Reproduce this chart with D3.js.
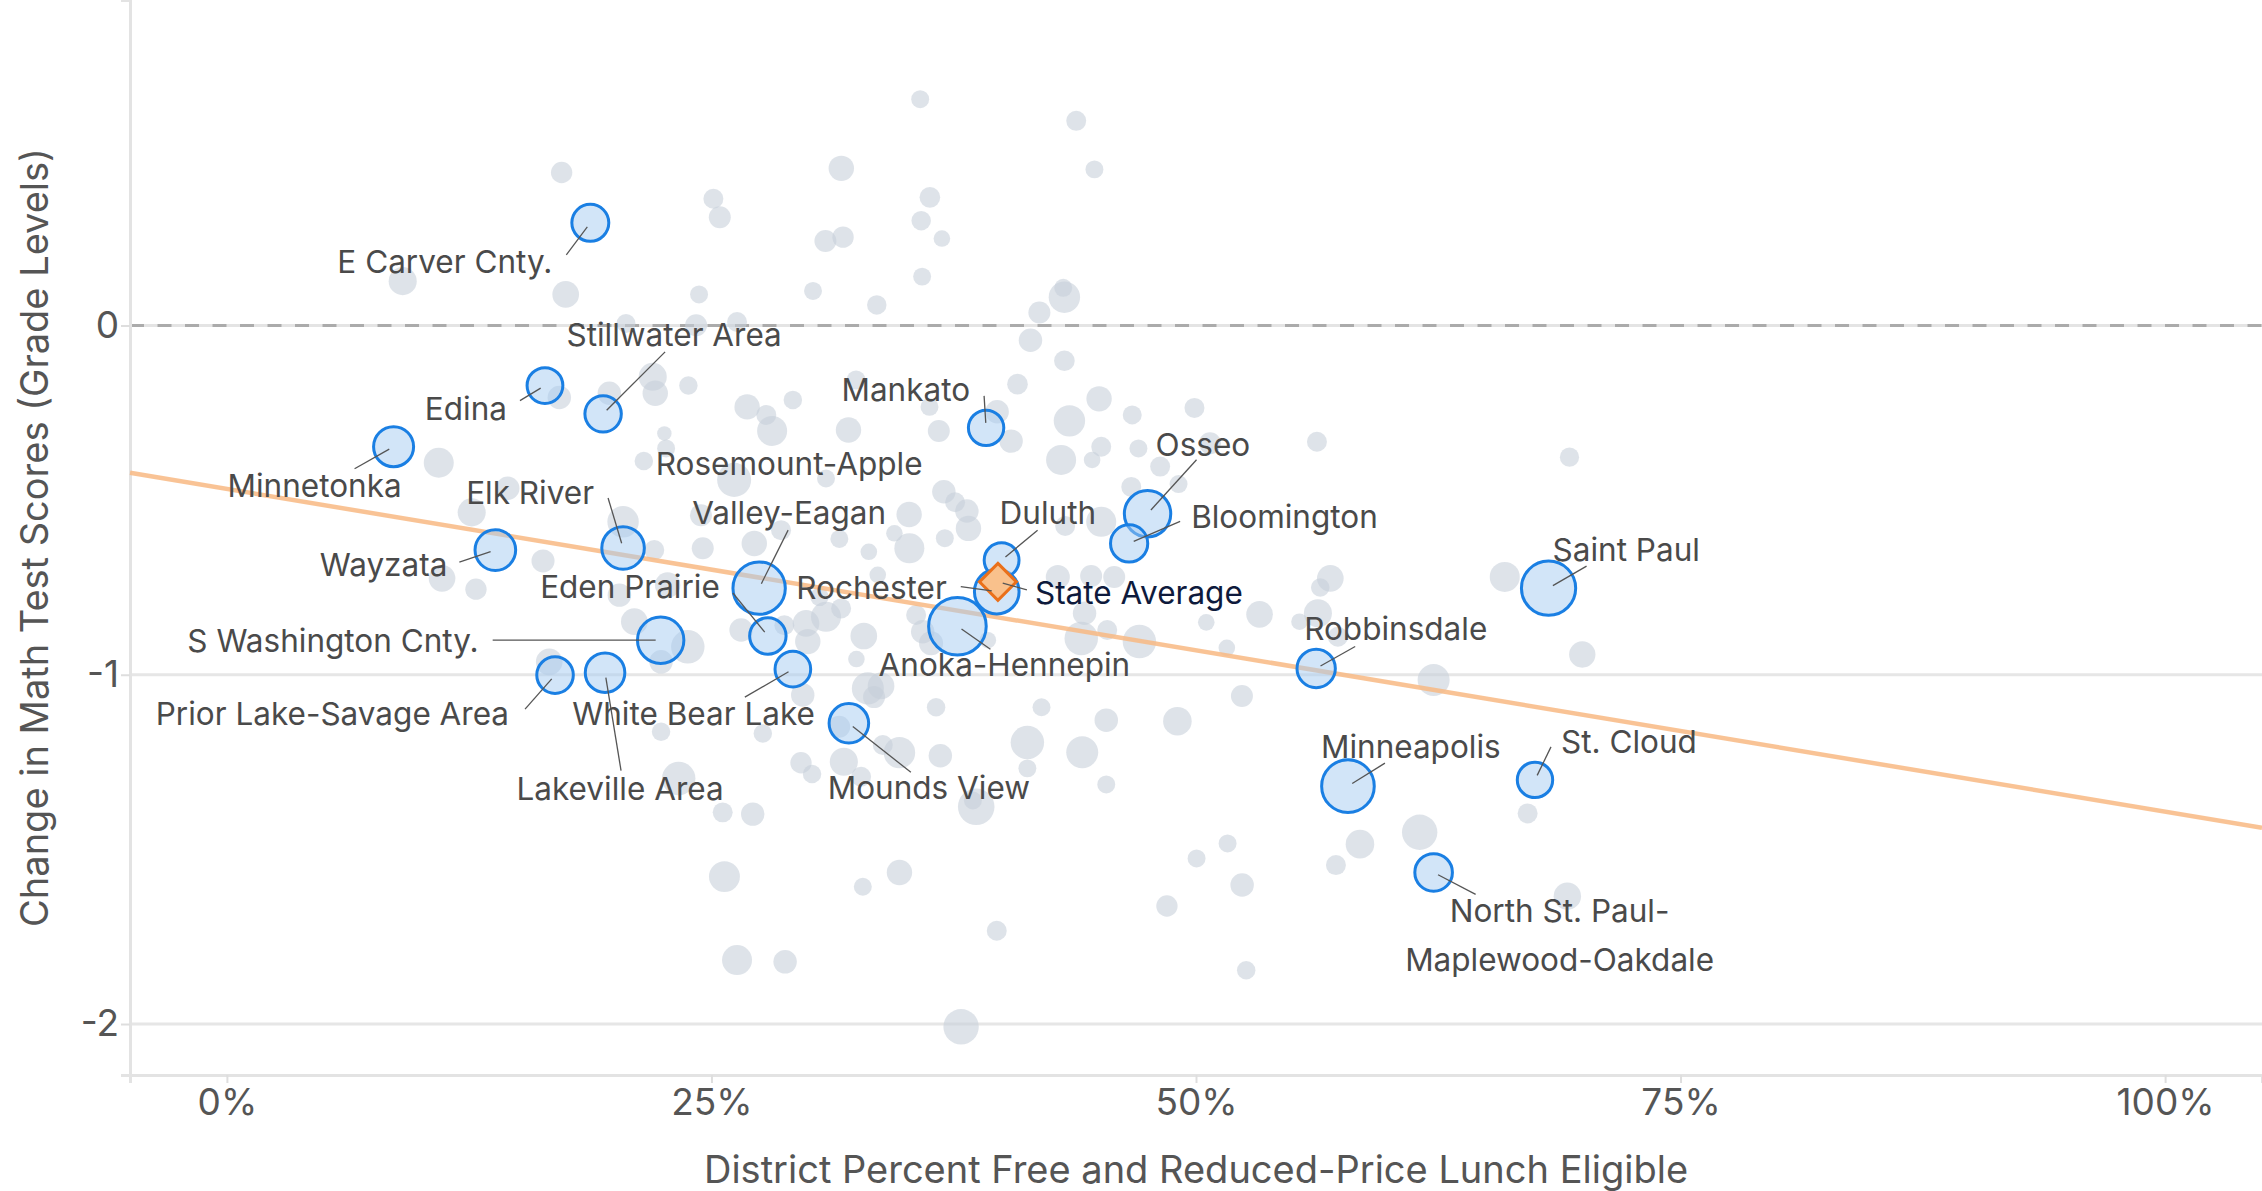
<!DOCTYPE html>
<html>
<head>
<meta charset="utf-8">
<script src="https://cdn.jsdelivr.net/npm/d3@7"></script>
<style>
  html, body { margin: 0; padding: 0; background: #fff; }
  svg { display: block; font-family: Inter, "Noto Sans", sans-serif; }
</style>
</head>
<body>
<svg id="chart"></svg>
<script>
// Axis ticks
const xTicks = [0, 0.25, 0.5, 0.75, 1];
const yTicks = [-2, -1, 0];

// Highlighted districts: share FRL eligible, change in grade levels, enrollment (thousands)
const districts = [
    { name: 'E Carver Cnty.', frl: 0.1875, change: 0.294, enroll: 14.4 },
    { name: 'Edina', frl: 0.1641, change: -0.172, enroll: 13.5 },
    { name: 'Stillwater Area', frl: 0.1941, change: -0.253, enroll: 14.0 },
    { name: 'Minnetonka', frl: 0.0860, change: -0.347, enroll: 16.9 },
    { name: 'Wayzata', frl: 0.1385, change: -0.643, enroll: 17.4 },
    { name: 'Elk River', frl: 0.2044, change: -0.637, enroll: 19.1 },
    { name: 'S Washington Cnty.', frl: 0.2238, change: -0.901, enroll: 22.7 },
    { name: 'Prior Lake-Savage Area', frl: 0.1693, change: -1.001, enroll: 14.1 },
    { name: 'Lakeville Area', frl: 0.1951, change: -0.994, enroll: 16.5 },
    { name: 'Rosemount-Apple Valley-Eagan', frl: 0.2746, change: -0.752, enroll: 28.9 },
    { name: 'Eden Prairie', frl: 0.2791, change: -0.889, enroll: 14.0 },
    { name: 'White Bear Lake', frl: 0.2920, change: -0.984, enroll: 13.4 },
    { name: 'Mounds View', frl: 0.3209, change: -1.139, enroll: 16.5 },
    { name: 'Anoka-Hennepin', frl: 0.3769, change: -0.861, enroll: 35.0 },
    { name: 'Rochester', frl: 0.3972, change: -0.762, enroll: 21.0 },
    { name: 'Duluth', frl: 0.3997, change: -0.672, enroll: 12.8 },
    { name: 'Mankato', frl: 0.3917, change: -0.293, enroll: 13.2 },
    { name: 'Osseo', frl: 0.4750, change: -0.539, enroll: 22.7 },
    { name: 'Bloomington', frl: 0.4655, change: -0.624, enroll: 14.6 },
    { name: 'Robbinsdale', frl: 0.5620, change: -0.982, enroll: 15.5 },
    { name: 'Minneapolis', frl: 0.5784, change: -1.319, enroll: 29.2 },
    { name: 'North St. Paul-Maplewood-Oakdale', frl: 0.6226, change: -1.566, enroll: 14.9 },
    { name: 'St. Cloud', frl: 0.6749, change: -1.301, enroll: 13.2 },
    { name: 'Saint Paul', frl: 0.6819, change: -0.752, enroll: 31.0 }
];

const stateAverage = { name: 'State Average', frl: 0.3978, change: -0.734 };

// Fitted trend: change = intercept + slope * frl
const trend = { intercept: -0.468, slope: -0.924 };

// All other districts: [frl, change, enroll]
const otherDistricts = [
    [0.1727, 0.438, 4.8], [0.2510, 0.363, 4.2], [0.2543, 0.310, 5.1], [0.0907, 0.127, 8.3],
    [0.1748, 0.089, 7.5], [0.2436, 0.089, 3.4], [0.2059, 0.006, 3.8], [0.2421, 0.001, 5.1],
    [0.2197, -0.147, 8.3], [0.2210, -0.194, 6.8], [0.2381, -0.172, 3.6], [0.1973, -0.194, 5.8],
    [0.1715, -0.206, 5.8], [0.2257, -0.309, 2.2], [0.2266, -0.352, 3.4], [0.2151, -0.388, 3.6],
    [0.1093, -0.393, 9.5], [0.2617, -0.442, 12.2], [0.1449, -0.466, 5.8], [0.1263, -0.535, 8.3],
    [0.2044, -0.562, 10.4], [0.2446, -0.543, 5.1], [0.2205, -0.643, 4.2], [0.2455, -0.638, 5.1],
    [0.1631, -0.674, 5.6], [0.2632, 0.010, 4.2],
    [0.3577, 0.648, 3.4], [0.4382, 0.586, 4.2], [0.3170, 0.450, 6.8], [0.4476, 0.447, 3.4],
    [0.3627, 0.367, 4.5], [0.3582, 0.300, 4.0], [0.3088, 0.242, 5.1], [0.3179, 0.253, 4.8],
    [0.3689, 0.249, 2.9], [0.3587, 0.140, 3.4], [0.3024, 0.099, 3.4], [0.3353, 0.059, 4.0],
    [0.4321, 0.081, 10.4], [0.4315, 0.108, 3.4], [0.4192, 0.037, 5.1], [0.4146, -0.042, 5.8],
    [0.4321, -0.101, 4.5], [0.4079, -0.168, 4.5], [0.3246, -0.156, 3.8], [0.2684, -0.233, 6.8],
    [0.2783, -0.256, 4.2], [0.2920, -0.213, 3.6], [0.2813, -0.302, 9.5], [0.3207, -0.299, 6.8],
    [0.3625, -0.233, 3.4], [0.3673, -0.302, 5.1], [0.3974, -0.247, 5.8], [0.4046, -0.331, 5.8],
    [0.4500, -0.210, 6.8], [0.4347, -0.273, 10.4], [0.4671, -0.256, 3.8], [0.4304, -0.385, 9.5],
    [0.4511, -0.347, 4.2], [0.4464, -0.385, 2.9], [0.3091, -0.438, 3.4], [0.3699, -0.476, 5.8],
    [0.3757, -0.506, 4.2], [0.3818, -0.531, 5.8], [0.3826, -0.581, 6.8], [0.3520, -0.541, 6.8],
    [0.3704, -0.609, 3.4], [0.3444, -0.595, 2.9], [0.3521, -0.638, 9.5], [0.3312, -0.648, 2.9],
    [0.3160, -0.611, 3.4], [0.2859, -0.586, 4.2], [0.2721, -0.624, 6.8], [0.4511, -0.562, 9.5],
    [0.4325, -0.574, 4.2], [0.4666, -0.462, 4.2],
    [0.4992, -0.236, 4.2], [0.5624, -0.333, 4.2], [0.4703, -0.352, 3.4], [0.4815, -0.404, 4.2],
    [0.4910, -0.454, 3.4], [0.5072, -0.337, 5.1],
    [0.6927, -0.377, 3.9], [0.6593, -0.720, 9.5], [0.6993, -0.942, 7.3], [0.6711, -1.397, 4.2],
    [0.6916, -1.634, 7.9],
    [0.5693, -0.724, 7.5], [0.5641, -0.750, 3.6], [0.5328, -0.827, 7.5], [0.5053, -0.850, 2.9],
    [0.5629, -0.824, 8.3], [0.5534, -0.848, 2.9], [0.5732, -0.891, 4.2], [0.5159, -0.923, 2.9],
    [0.4708, -0.905, 11.8], [0.6226, -1.015, 10.8], [0.5237, -1.061, 5.1], [0.4904, -1.133, 8.6],
    [0.6154, -1.451, 13.2], [0.5846, -1.485, 8.6], [0.5163, -1.483, 3.4], [0.5003, -1.526, 3.4],
    [0.5722, -1.545, 4.2], [0.5238, -1.602, 5.8], [0.4850, -1.662, 4.8], [0.5259, -1.846, 3.6],
    [0.2653, -0.872, 5.8], [0.2876, -0.858, 4.2], [0.2988, -0.853, 7.5], [0.2997, -0.905, 6.8],
    [0.3091, -0.834, 9.5], [0.3169, -0.810, 4.2], [0.3057, -0.777, 3.6], [0.3286, -0.889, 7.5],
    [0.3248, -0.955, 2.9], [0.2971, -1.058, 5.8], [0.2765, -1.168, 3.6], [0.3307, -1.039, 10.8],
    [0.3375, -1.032, 7.5], [0.3339, -1.064, 5.1], [0.3659, -1.093, 3.6], [0.4203, -1.093, 3.4],
    [0.4537, -1.130, 5.8], [0.4130, -1.194, 11.8], [0.4413, -1.222, 10.8], [0.4130, -1.268, 3.4],
    [0.4537, -1.314, 3.4], [0.3681, -1.232, 5.8], [0.3470, -1.223, 10.4], [0.3384, -1.201, 4.2],
    [0.3183, -1.249, 8.3], [0.3159, -1.149, 5.1], [0.2962, -1.252, 4.8], [0.3019, -1.284, 3.6],
    [0.3272, -1.292, 4.2], [0.3866, -1.378, 14.1], [0.3849, -1.360, 3.4], [0.2713, -1.399, 5.8],
    [0.3470, -1.566, 6.8], [0.3281, -1.607, 3.4], [0.3972, -1.733, 4.2], [0.2880, -1.822, 5.8],
    [0.3788, -2.008, 13.2], [0.3556, -0.829, 4.2], [0.3590, -0.877, 5.8], [0.3633, -0.910, 6.1],
    [0.3358, -0.714, 2.9], [0.3926, -0.901, 2.9], [0.4287, -0.720, 6.1], [0.4459, -0.717, 5.1],
    [0.4578, -0.720, 5.1], [0.4425, -0.824, 5.8], [0.4408, -0.896, 11.8], [0.4542, -0.872, 4.2],
    [0.1110, -0.724, 7.5], [0.1285, -0.755, 4.8], [0.2274, -0.743, 6.8], [0.2025, -0.772, 5.8],
    [0.2102, -0.848, 7.5], [0.2378, -0.920, 11.8], [0.2240, -0.963, 5.8], [0.1663, -0.963, 7.5],
    [0.2240, -1.163, 3.6], [0.2331, -1.297, 11.8], [0.2558, -1.394, 4.2], [0.2567, -1.578, 10.1],
    [0.2632, -1.817, 9.5]
];

// Label placement (pixel offsets from the point): text anchor + leader start
const labelLayout = {
    'E Carver Cnty.': { lines: ['E Carver Cnty.'], anchor: 'end', dx: -38, dy: 50, lx: -24, ly: 32 },
    'Edina': { lines: ['Edina'], anchor: 'end', dx: -38, dy: 34, lx: -25, ly: 15 },
    'Stillwater Area': { lines: ['Stillwater Area'], anchor: 'middle', dx: 71, dy: -68, lx: 62, ly: -62 },
    'Minnetonka': { lines: ['Minnetonka'], anchor: 'middle', dx: -79, dy: 50, lx: -39, ly: 22 },
    'Wayzata': { lines: ['Wayzata'], anchor: 'end', dx: -48, dy: 26, lx: -36, ly: 12 },
    'Elk River': { lines: ['Elk River'], anchor: 'end', dx: -29, dy: -44, lx: -15, ly: -50 },
    'S Washington Cnty.': { lines: ['S Washington Cnty.'], anchor: 'end', dx: -182, dy: 12, lx: -168, ly: 0 },
    'Prior Lake-Savage Area': { lines: ['Prior Lake-Savage Area'], anchor: 'end', dx: -46, dy: 50, lx: -30, ly: 34 },
    'Lakeville Area': { lines: ['Lakeville Area'], anchor: 'middle', dx: 15, dy: 127, lx: 16, ly: 98 },
    'Rosemount-Apple Valley-Eagan': { lines: ['Rosemount-Apple', 'Valley-Eagan'], anchor: 'middle', dx: 30, dy: -113, lx: 29, ly: -58 },
    'Eden Prairie': { lines: ['Eden Prairie'], anchor: 'end', dx: -48, dy: -38, lx: -35, ly: -43 },
    'White Bear Lake': { lines: ['White Bear Lake'], anchor: 'end', dx: 22, dy: 56, lx: -48, ly: 28 },
    'Mounds View': { lines: ['Mounds View'], anchor: 'middle', dx: 80, dy: 76, lx: 62, ly: 49 },
    'Anoka-Hennepin': { lines: ['Anoka-Hennepin'], anchor: 'middle', dx: 47, dy: 50, lx: 33, ly: 23 },
    'Rochester': { lines: ['Rochester'], anchor: 'end', dx: -50, dy: 7, lx: -36, ly: -5 },
    'Duluth': { lines: ['Duluth'], anchor: 'start', dx: -2, dy: -36, lx: 36, ly: -30 },
    'Mankato': { lines: ['Mankato'], anchor: 'end', dx: -16, dy: -27, lx: -2, ly: -32 },
    'Osseo': { lines: ['Osseo'], anchor: 'start', dx: 8, dy: -58, lx: 49, ly: -54 },
    'Bloomington': { lines: ['Bloomington'], anchor: 'start', dx: 62, dy: -15, lx: 51, ly: -22 },
    'Robbinsdale': { lines: ['Robbinsdale'], anchor: 'start', dx: -12, dy: -28, lx: 39, ly: -22 },
    'Minneapolis': { lines: ['Minneapolis'], anchor: 'start', dx: -27, dy: -28, lx: 37, ly: -23 },
    'North St. Paul-Maplewood-Oakdale': { lines: ['North St. Paul-', 'Maplewood-Oakdale'], anchor: 'middle', dx: 126, dy: 50, lx: 42, ly: 22 },
    'St. Cloud': { lines: ['St. Cloud'], anchor: 'start', dx: 26, dy: -27, lx: 16, ly: -33 },
    'Saint Paul': { lines: ['Saint Paul'], anchor: 'start', dx: 4, dy: -27, lx: 38, ly: -22 },
    'State Average': { lines: ['State Average'], anchor: 'start', dx: 37, dy: 22, lx: 29, ly: 8 }
};

const width = 2262;
const height = 1191;
const margin = { top: 0, right: 0, bottom: 116, left: 130 };
const lineHeight = 49;

const svg = d3.select('#chart')
    .attr('width', width)
    .attr('height', height);

const x = d3.scaleLinear()
    .domain([-0.05, 1.05])
    .range([margin.left, width - margin.right]);

const y = d3.scaleLinear()
    .domain([-2.146, 0.932])
    .range([height - margin.bottom, margin.top]);

const r = d3.scaleSqrt()
    .domain([0, 40])
    .range([0, 30.8]);

// Gridlines
svg.append('g')
    .selectAll('line')
    .data(yTicks.filter(d => d !== 0))
    .enter().append('line')
    .attr('x1', x.range()[0])
    .attr('x2', x.range()[1])
    .attr('y1', d => y(d))
    .attr('y2', d => y(d))
    .attr('stroke', '#e6e6e6')
    .attr('stroke-width', 3);

// Zero reference line
svg.append('line')
    .attr('x1', x.range()[0]).attr('x2', x.range()[1])
    .attr('y1', y(0)).attr('y2', y(0))
    .attr('stroke', '#e4e4e4')
    .attr('stroke-width', 3);
svg.append('line')
    .attr('x1', x.range()[0]).attr('x2', x.range()[1])
    .attr('y1', y(0)).attr('y2', y(0))
    .attr('stroke', '#ababab')
    .attr('stroke-width', 3)
    .attr('stroke-dasharray', '14,13.5');

// Axes
const xAxis = svg.append('g')
    .attr('transform', `translate(0,${y.range()[0]})`)
    .call(d3.axisBottom(x)
        .tickValues(xTicks)
        .tickFormat(d3.format('.0%'))
        .tickSizeOuter(0)
        .tickSize(8)
        .tickPadding(6));

const yAxis = svg.append('g')
    .attr('transform', `translate(${x.range()[0]},0)`)
    .call(d3.axisLeft(y)
        .tickValues(yTicks)
        .tickFormat(d => String(d))
        .tickSizeOuter(0)
        .tickSize(9)
        .tickPadding(2));

[xAxis, yAxis].forEach(axis => {
    axis.select('.domain').attr('stroke', '#e3e3e3').attr('stroke-width', 3);
    axis.selectAll('.tick line').attr('stroke', '#dedede').attr('stroke-width', 2);
    axis.selectAll('.tick text')
        .style('font-size', '37px')
        .style('font-family', 'Inter, "Noto Sans", sans-serif')
        .attr('fill', '#555');
});

// Axis titles
svg.append('text')
    .attr('x', (x.range()[0] + x.range()[1]) / 2)
    .attr('y', 1183)
    .attr('text-anchor', 'middle')
    .style('font-size', '38px')
    .attr('fill', '#555')
    .text('District Percent Free and Reduced-Price Lunch Eligible');

svg.append('text')
    .attr('transform', `translate(48,${(y.range()[0] + y.range()[1]) / 2}) rotate(-90)`)
    .attr('text-anchor', 'middle')
    .style('font-size', '38px')
    .attr('fill', '#555')
    .text('Change in Math Test Scores (Grade Levels)');

// Other districts
svg.append('g')
    .selectAll('circle')
    .data(otherDistricts)
    .enter().append('circle')
    .attr('cx', d => x(d[0]))
    .attr('cy', d => y(d[1]))
    .attr('r', d => r(d[2]))
    .attr('fill', '#c6cfd9')
    .attr('fill-opacity', 0.58);

// Trend line
svg.append('line')
    .attr('x1', x(x.domain()[0]))
    .attr('y1', y(trend.intercept + trend.slope * x.domain()[0]))
    .attr('x2', x(x.domain()[1]))
    .attr('y2', y(trend.intercept + trend.slope * x.domain()[1]))
    .attr('stroke', '#f8b882')
    .attr('stroke-opacity', 0.85)
    .attr('stroke-width', 4.5);

// Highlighted districts
svg.append('g')
    .selectAll('circle')
    .data(districts)
    .enter().append('circle')
    .attr('cx', d => x(d.frl))
    .attr('cy', d => y(d.change))
    .attr('r', d => r(d.enroll))
    .attr('fill', '#a6cbf1')
    .attr('fill-opacity', 0.5)
    .attr('stroke', '#1a7fe3')
    .attr('stroke-width', 3);

// State average diamond
svg.append('path')
    .attr('d', d3.symbol().type(d3.symbolDiamond2).size(870)())
    .attr('transform', `translate(${x(stateAverage.frl)},${y(stateAverage.change)})`)
    .attr('fill', '#f9c18c')
    .attr('stroke', '#ea701a')
    .attr('stroke-width', 3)
    .attr('stroke-linejoin', 'miter');

// Labels and leader lines
const labelled = districts.concat([stateAverage]);

const labels = svg.append('g')
    .selectAll('g')
    .data(labelled)
    .enter().append('g')
    .attr('transform', d => `translate(${x(d.frl)},${y(d.change)})`);

labels.append('line')
    .each(function(d) {
        const L = labelLayout[d.name];
        const len = Math.hypot(L.lx, L.ly);
        d3.select(this)
            .attr('x1', L.lx).attr('y1', L.ly)
            .attr('x2', L.lx / len * 5).attr('y2', L.ly / len * 5);
    })
    .attr('stroke', '#555')
    .attr('stroke-width', 1.3);

labels.append('text')
    .attr('text-anchor', d => labelLayout[d.name].anchor)
    .style('font-size', '31.5px')
    .attr('fill', d => d.name === 'State Average' ? '#0e1a3c' : '#4a4a4a')
    .each(function(d) {
        const L = labelLayout[d.name];
        d3.select(this).selectAll('tspan')
            .data(L.lines)
            .enter().append('tspan')
            .attr('x', L.dx)
            .attr('y', (t, i) => L.dy + i * lineHeight)
            .text(t => t);
    });
</script>
</body>
</html>
